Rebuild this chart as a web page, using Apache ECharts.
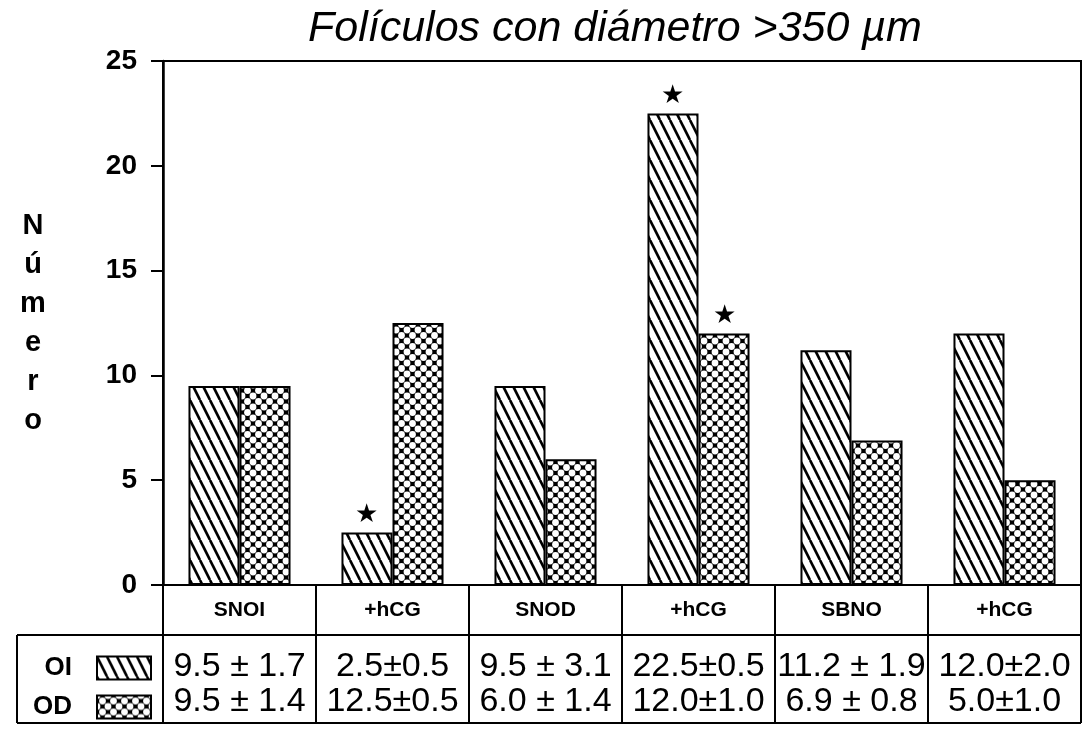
<!DOCTYPE html>
<html>
<head>
<meta charset="utf-8">
<title>Folículos con diámetro >350 µm</title>
<script src="https://cdn.jsdelivr.net/npm/echarts@6/dist/echarts.min.js"></script>
<style>
    html, body { margin: 0; padding: 0; background: #fff; }
    #chart { width: 1085px; height: 731px; }
</style>
</head>
<body>
<div id="chart"></div>
<script>
    // data
    var categories = ['SNOI', '+hCG', 'SNOD', '+hCG', 'SBNO', '+hCG'];
    var oiValues = [9.5, 2.5, 9.5, 22.5, 11.2, 12.0];
    var odValues = [9.5, 12.5, 6.0, 12.0, 6.9, 5.0];
    var oiText = ['9.5 ± 1.7', '2.5±0.5', '9.5 ± 3.1', '22.5±0.5', '11.2 ± 1.9', '12.0±2.0'];
    var odText = ['9.5 ± 1.4', '12.5±0.5', '6.0 ± 1.4', '12.0±1.0', '6.9 ± 0.8', '5.0±1.0'];
    var oiStars = [1, 3];   // indexes marked with a star
    var odStars = [3];

    var sans = "'Liberation Sans', Arial, sans-serif";
    var narrow = "'Liberation Sans Narrow', 'Liberation Sans', sans-serif";

    // diagonal hatch for OI
    function hatchPattern() {
        var c = document.createElement('canvas');
        c.width = 10; c.height = 20;
        var g = c.getContext('2d');
        g.fillStyle = '#fff';
        g.fillRect(0, 0, 10, 20);
        g.strokeStyle = '#000';
        g.lineWidth = 2.6;
        for (var k = -1; k <= 1; k++) {
            g.beginPath();
            g.moveTo(k * 10, 0);
            g.lineTo(k * 10 + 10, 20);
            g.stroke();
        }
        return c;
    }

    // black with white dots for OD
    function dotPattern() {
        var c = document.createElement('canvas');
        c.width = 11; c.height = 11;
        var g = c.getContext('2d');
        g.fillStyle = '#000';
        g.fillRect(0, 0, 11, 11);
        g.fillStyle = '#fff';
        [[5.5, 5.5], [0, 0], [11, 0], [0, 11], [11, 11]].forEach(function (p) {
            g.beginPath();
            g.arc(p[0], p[1], 3.4, 0, Math.PI * 2);
            g.fill();
        });
        return c;
    }

    function withStars(vals, stars) {
        return vals.map(function (v, i) {
            return stars.indexOf(i) >= 0 ? { value: v, label: { show: true } } : v;
        });
    }

    var starLabel = {
        show: false,
        position: 'top',
        distance: 5,
        formatter: '★',
        fontSize: 26,
        color: '#000'
    };

    function rowAxis(margin, texts) {
        return {
            type: 'category',
            position: 'bottom',
            data: categories,
            axisLine: { show: false },
            axisTick: { show: false },
            axisLabel: {
                interval: 0, margin: margin, fontFamily: narrow, fontSize: 34, color: '#000',
                formatter: function (v, i) { return texts[i]; }
            }
        };
    }

    var chart = echarts.init(document.getElementById('chart'), null, { renderer: 'canvas' });
    chart.setOption({
        backgroundColor: '#fff',
        animation: false,
        title: {
            text: 'Folículos con diámetro >350 µm',
            left: 303,
            top: 3,
            textStyle: { fontFamily: sans, fontStyle: 'italic', fontWeight: 'normal', fontSize: 43, color: '#000' }
        },
        legend: {
            data: ['OI', 'OD'],
            orient: 'vertical',
            left: 28,
            top: 650,
            align: 'right',
            icon: 'rect',
            itemWidth: 54,
            itemHeight: 23,
            itemGap: 13,
            textStyle: { fontFamily: sans, fontWeight: 'bold', fontSize: 26, color: '#000', padding: [0, 20, 0, 0] }
        },
        grid: {
            left: 163, right: 4, top: 61, bottom: 146,
            show: true, borderColor: '#000', borderWidth: 2,
            containLabel: false
        },
        xAxis: [
            {
                type: 'category',
                position: 'bottom',
                data: categories,
                axisLine: { show: true, lineStyle: { color: '#000', width: 2 } },
                axisTick: { show: true, interval: 0, length: 138, lineStyle: { color: '#000', width: 2 } },
                axisLabel: { interval: 0, margin: 15, fontFamily: sans, fontWeight: 'bold', fontSize: 21, color: '#000' }
            },
            rowAxis(65, oiText),
            rowAxis(100, odText)
        ],
        yAxis: {
            type: 'value',
            min: 0, max: 25, interval: 5,
            name: 'N\nú\nm\ne\nr\no',
            nameLocation: 'middle',
            nameRotate: 0,
            nameGap: 130,
            nameTextStyle: {
                fontFamily: sans, fontWeight: 'bold', fontSize: 29, color: '#000',
                lineHeight: 39, align: 'center', verticalAlign: 'middle', padding: [16, 0, 0, 0]
            },
            axisLine: { show: true, lineStyle: { color: '#000', width: 2.5 } },
            axisTick: { show: true, length: 12, lineStyle: { color: '#000', width: 2 } },
            axisLabel: { margin: 26, fontFamily: sans, fontWeight: 'bold', fontSize: 28, color: '#000' },
            splitLine: { show: false }
        },
        graphic: [
            { type: 'line', shape: { x1: 17, y1: 635, x2: 1081, y2: 635 }, style: { stroke: '#000', lineWidth: 2 } },
            { type: 'line', shape: { x1: 17, y1: 723, x2: 1081, y2: 723 }, style: { stroke: '#000', lineWidth: 2 } },
            { type: 'line', shape: { x1: 17, y1: 635, x2: 17, y2: 723 }, style: { stroke: '#000', lineWidth: 2 } }
        ],
        series: [
            {
                name: 'OI',
                type: 'bar',
                barGap: '0%',
                barCategoryGap: '33.3%',
                itemStyle: { color: { image: hatchPattern(), repeat: 'repeat' }, borderColor: '#000', borderWidth: 2 },
                label: starLabel,
                data: withStars(oiValues, oiStars)
            },
            {
                name: 'OD',
                type: 'bar',
                barGap: '0%',
                barCategoryGap: '33.3%',
                itemStyle: { color: { image: dotPattern(), repeat: 'repeat' }, borderColor: '#000', borderWidth: 2 },
                label: starLabel,
                data: withStars(odValues, odStars)
            }
        ]
    });
</script>
</body>
</html>
